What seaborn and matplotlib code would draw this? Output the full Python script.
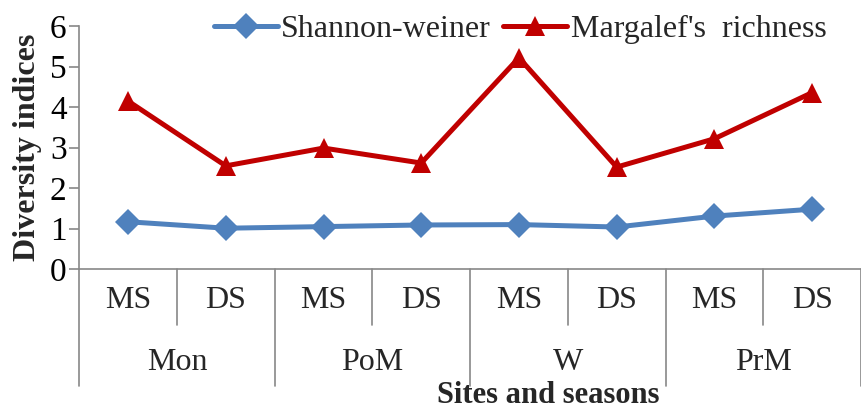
import pandas as pd
import seaborn as sns
import matplotlib.pyplot as plt
import matplotlib.transforms as mtransforms

# categories (two-level axis)
groups = ["Mon", "PoM", "W", "PrM"]
seasons = ["MS", "DS"]
shannon = [1.17, 1.01, 1.05, 1.09, 1.10, 1.04, 1.31, 1.48]
margalef = [4.15, 2.55, 2.99, 2.62, 5.22, 2.52, 3.22, 4.36]
series_names = ["Shannon-weiner", "Margalef's  richness"]
colors = ["#4F81BD", "#C00000"]
marker_sizes = [13, 15]

cats = [f"{g} {s}" for g in groups for s in seasons]
df = pd.DataFrame({
    "cat": cats * 2,
    "value": shannon + margalef,
    "Index": [series_names[0]] * len(cats) + [series_names[1]] * len(cats),
})

sns.set_theme(style="white")
plt.rcParams["font.family"] = ["Liberation Serif", "DejaVu Serif"]

fig = plt.figure(figsize=(8.61, 4.09), dpi=100)
ax = fig.add_axes([0.092, 0.342, 0.908, 0.594])

sns.lineplot(data=df, x="cat", y="value", hue="Index", style="Index",
             palette=dict(zip(series_names, colors)),
             markers=dict(zip(series_names, ["D", "^"])), dashes=False,
             linewidth=3.6, markersize=12, markeredgewidth=0, ax=ax,
             sort=False)
for line, ms in zip(ax.lines[:2], marker_sizes):
    line.set_markersize(ms)

ax.set_ylim(0, 6)
ax.set_xlim(-0.5, len(cats) - 0.5)
ax.set_yticks(range(0, 7))
ax.tick_params(axis="y", labelsize=24, length=7, width=1.2, color="#888888",
               left=True, pad=2, labelcolor="black")
ax.set_xticks([])
ax.set_xlabel("")
ax.set_ylabel("Diversity indices", fontsize=23, fontweight="bold")
ax.yaxis.set_label_coords(-0.047, 0.5)
for side in ["top", "right"]:
    ax.spines[side].set_visible(False)
for side in ["left", "bottom"]:
    ax.spines[side].set_color("#888888")
    ax.spines[side].set_linewidth(1.2)

# multi-level category axis
trans = mtransforms.blended_transform_factory(ax.transData, ax.transAxes)
for i, c in enumerate(cats):
    ax.text(i, -0.13, c.split()[1], transform=trans, ha="center", va="center",
            fontsize=23)
for j, g in enumerate(groups):
    ax.text(2 * j + 0.5, -0.385, g, transform=trans, ha="center", va="center",
            fontsize=23)
    ax.plot([2 * j + 0.5] * 2, [0, -0.23], transform=trans, color="#888888",
            lw=1.2, clip_on=False)
for k in range(len(groups) + 1):
    ax.plot([2 * k - 0.5] * 2, [0, -0.48], transform=trans, color="#888888",
            lw=1.2, clip_on=False)
ax.text(0.5 * (len(cats) - 1) + 0.8, -0.52, "Sites and seasons", transform=trans,
        ha="center", va="center", fontsize=22, fontweight="bold")

handles, labels = ax.get_legend_handles_labels()
leg = ax.legend(handles[-2:], labels[-2:], loc="upper right", bbox_to_anchor=(0.972, 1.1),
                ncol=2, frameon=False, fontsize=23, handlelength=2.0, handletextpad=0.1,
                columnspacing=0.4, borderaxespad=0)
for h, ms in zip(leg.legend_handles, marker_sizes):
    h.set_markersize(ms)

fig.savefig("out.png", dpi=100)
